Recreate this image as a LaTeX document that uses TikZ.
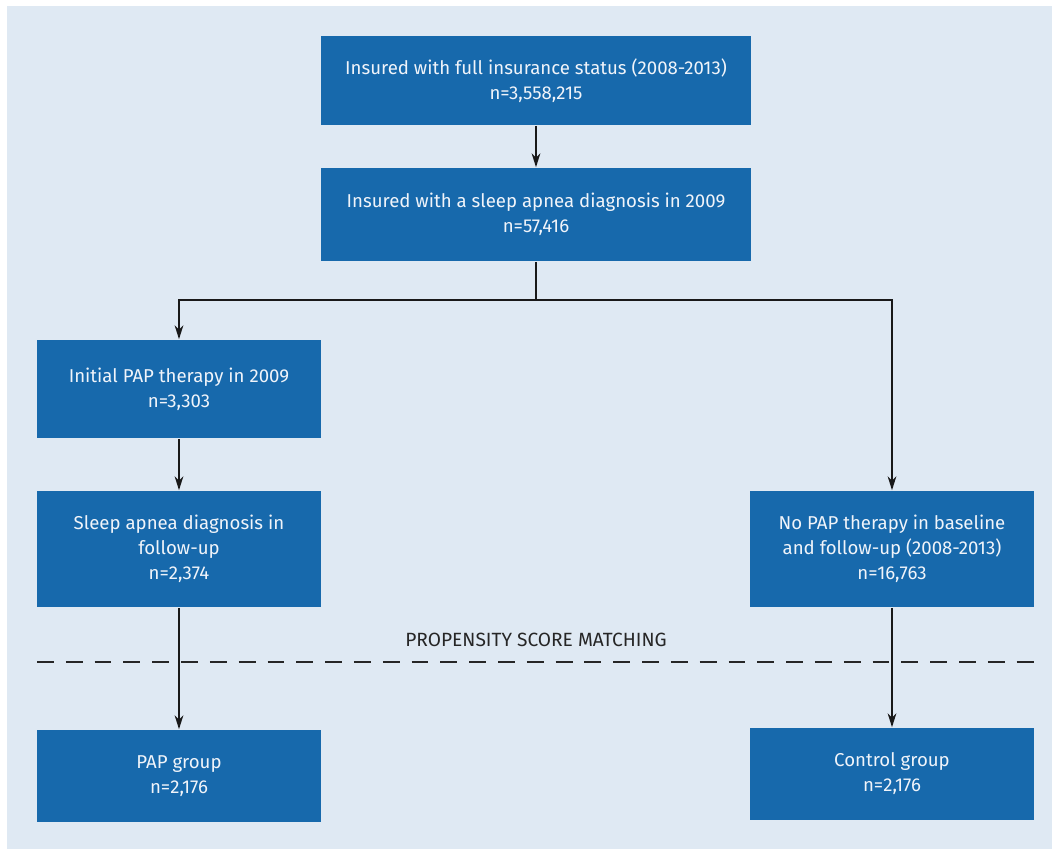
\documentclass[tikz,border=0pt]{standalone}
\usepackage{fontspec}
\setmainfont{Fira Sans}
\usetikzlibrary{positioning,arrows.meta}
\definecolor{boxblue}{HTML}{1769AC}
\definecolor{paleblue}{HTML}{DFE9F3}
\definecolor{boxtext}{HTML}{F0F4FA}

\begin{document}
\begin{tikzpicture}[x=0.02cm, y=-0.02cm, >={Stealth[length=8pt,width=5pt]}, line width=0.9pt]
        \tikzstyle{stage}=[rectangle,fill=boxblue,text=boxtext,align=center,inner sep=0pt,font=\fontsize{10.6}{14.2}\selectfont];
        \tikzstyle{wide stage}=[stage,minimum width=8.6cm];
        \tikzstyle{arm stage}=[stage,minimum width=5.68cm];
        \tikzstyle{flow}=[->,draw=black!90];

        % canvas
        \fill[white] (0,0) rectangle (1052,849);
        \fill[paleblue] (7,6) rectangle (1052,849);
        \useasboundingbox (0,0) rectangle (1052,849);

        % study population
        \node[wide stage,minimum height=1.78cm] (insured) at (536,80.5) {Insured with full insurance status (2008-2013)\\n=3,558,215};
        \node[wide stage,minimum height=1.86cm] (apnea) at (536,214.5) {Insured with a sleep apnea diagnosis in 2009\\n=57,416};
        % PAP arm
        \node[arm stage,minimum height=1.96cm] (initpap) at (179,389) {Initial PAP therapy in 2009\\n=3,303};
        \node[arm stage,minimum height=2.32cm] (followup) at (179,549) {Sleep apnea diagnosis in\\follow-up\\n=2,374};
        \node[arm stage,minimum height=1.84cm] (papgroup) at (179,776) {PAP group\\n=2,176};
        % control arm
        \node[arm stage,minimum height=2.32cm] (nopap) at (892,549) {No PAP therapy in baseline\\and follow-up (2008-2013)\\n=16,763};
        \node[arm stage,minimum height=1.84cm] (control) at (892,774) {Control group\\n=2,176};

        % matching line
        \coordinate (ml) at (37,662);
        \coordinate (mr) at (1034,662);
        \draw[dash pattern=on 9.6pt off 6.8pt,draw=black!85] (ml) -- (mr);
        \node[font=\fontsize{10.9}{12}\selectfont,text=black!85] (psm) at (536,640) {PROPENSITY SCORE MATCHING};

        % Connect stages
        \coordinate (split) at (536,300);
        \draw[flow] (insured) -- (apnea);
        \draw[flow] (apnea.south) -- (split) -| (initpap.north);
        \draw[flow] (split) -| (nopap.north);
        \draw[flow] (initpap) -- (followup);
        \draw[flow] (followup) -- (papgroup);
        \draw[flow] (nopap) -- (control);
    \end{tikzpicture}
\end{document}
